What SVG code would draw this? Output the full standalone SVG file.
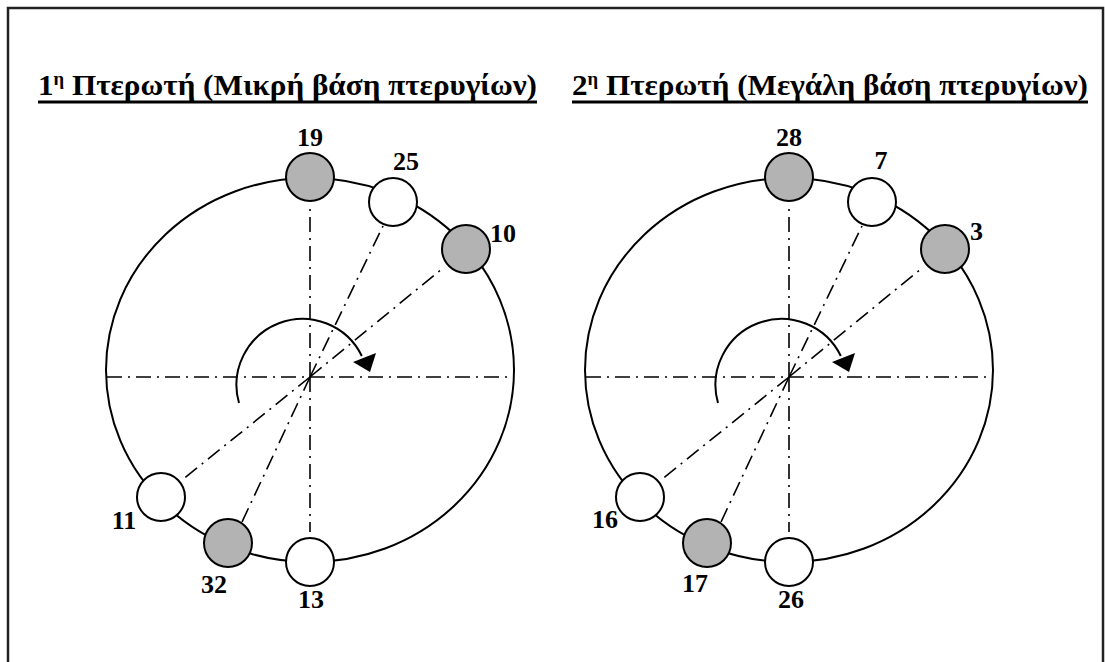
<svg xmlns="http://www.w3.org/2000/svg" width="1105" height="662" viewBox="0 0 1105 662">
<style>
.frame{fill:none;stroke:#222;stroke-width:2.5}
.title{font-family:'Liberation Serif','Times New Roman','DejaVu Serif',serif;font-weight:bold;font-size:30px;fill:#000}
.sup{font-size:18px}
.uline{stroke:#000;stroke-width:3}
.rim{fill:none;stroke:#000;stroke-width:2}
.axis{fill:none;stroke:#000;stroke-width:1.6;stroke-dasharray:15 6 2 6}
.rot{fill:none;stroke:#000;stroke-width:2}
.head{fill:#000}
.hole{stroke:#000;stroke-width:2}
.g{fill:#b3b3b3}
.w{fill:#fff}
.lbl{font-family:'Liberation Serif','Times New Roman','DejaVu Serif',serif;font-weight:bold;font-size:26px;fill:#000}
</style>
<rect class="frame" x="8" y="8" width="1095" height="720"/>

<g id="title-1">
<text class="title" font-family="Liberation Serif, serif" x="38" y="95" textLength="499" lengthAdjust="spacingAndGlyphs">1<tspan class="sup" dy="-10">η</tspan><tspan dy="10"> Πτερωτή (Μικρή βάση πτερυγίων)</tspan></text>
<line class="uline" x1="38" y1="102" x2="537" y2="102"/>
</g>
<g id="title-2">
<text class="title" font-family="Liberation Serif, serif" x="572" y="95" textLength="516" lengthAdjust="spacingAndGlyphs">2<tspan class="sup" dy="-10">η</tspan><tspan dy="10"> Πτερωτή (Μεγάλη βάση πτερυγίων)</tspan></text>
<line class="uline" x1="572" y1="102" x2="1088" y2="102"/>
</g>

<!-- Left impeller -->
<g id="rim-1"><ellipse class="rim" cx="310" cy="370" rx="204" ry="192"/></g>
<g id="connectors-1">
<line class="axis" x1="107" y1="377" x2="514" y2="377"/>
<line class="axis" x1="310" y1="377" x2="310" y2="205"/>
<line class="axis" x1="310" y1="377" x2="383" y2="226"/>
<line class="axis" x1="310" y1="377" x2="443" y2="268"/>
<line class="axis" x1="310" y1="377" x2="182" y2="480"/>
<line class="axis" x1="310" y1="377" x2="242" y2="522"/>
<line class="axis" x1="310" y1="377" x2="310" y2="532"/>
<path class="rot" d="M 239 403 A 66 66 0 0 1 361.8 356"/>
<polygon class="head" points="353,362 376,353 370,372"/>
</g>
<g id="hole-19"><circle class="hole g" cx="310" cy="177" r="24"/><text class="lbl" font-family="Liberation Serif, serif" x="310" y="146" text-anchor="middle">19</text></g>
<g id="hole-25"><circle class="hole w" cx="393" cy="202" r="24"/><text class="lbl" font-family="Liberation Serif, serif" x="406" y="170" text-anchor="middle">25</text></g>
<g id="hole-10"><circle class="hole g" cx="466" cy="249" r="24"/><text class="lbl" font-family="Liberation Serif, serif" x="490" y="242">10</text></g>
<g id="hole-11"><circle class="hole w" cx="161" cy="497" r="24"/><text class="lbl" font-family="Liberation Serif, serif" x="124" y="529" text-anchor="middle">11</text></g>
<g id="hole-32"><circle class="hole g" cx="228" cy="543" r="24"/><text class="lbl" font-family="Liberation Serif, serif" x="214" y="593" text-anchor="middle">32</text></g>
<g id="hole-13"><circle class="hole w" cx="310" cy="562" r="24"/><text class="lbl" font-family="Liberation Serif, serif" x="311" y="608" text-anchor="middle">13</text></g>

<!-- Right impeller -->
<g id="rim-2"><ellipse class="rim" cx="789" cy="370" rx="204" ry="192"/></g>
<g id="connectors-2">
<line class="axis" x1="586" y1="377" x2="993" y2="377"/>
<line class="axis" x1="789" y1="377" x2="789" y2="205"/>
<line class="axis" x1="789" y1="377" x2="862" y2="226"/>
<line class="axis" x1="789" y1="377" x2="922" y2="268"/>
<line class="axis" x1="789" y1="377" x2="661" y2="480"/>
<line class="axis" x1="789" y1="377" x2="721" y2="522"/>
<line class="axis" x1="789" y1="377" x2="789" y2="532"/>
<path class="rot" d="M 718 403 A 66 66 0 0 1 840.8 356"/>
<polygon class="head" points="832,362 855,353 849,372"/>
</g>
<g id="hole-28"><circle class="hole g" cx="789" cy="177" r="24"/><text class="lbl" font-family="Liberation Serif, serif" x="789" y="146" text-anchor="middle">28</text></g>
<g id="hole-7"><circle class="hole w" cx="872" cy="202" r="24"/><text class="lbl" font-family="Liberation Serif, serif" x="881" y="169" text-anchor="middle">7</text></g>
<g id="hole-3"><circle class="hole g" cx="945" cy="249" r="24"/><text class="lbl" font-family="Liberation Serif, serif" x="970" y="240">3</text></g>
<g id="hole-16"><circle class="hole w" cx="640" cy="497" r="24"/><text class="lbl" font-family="Liberation Serif, serif" x="605" y="528" text-anchor="middle">16</text></g>
<g id="hole-17"><circle class="hole g" cx="707" cy="543" r="24"/><text class="lbl" font-family="Liberation Serif, serif" x="695" y="592" text-anchor="middle">17</text></g>
<g id="hole-26"><circle class="hole w" cx="789" cy="562" r="24"/><text class="lbl" font-family="Liberation Serif, serif" x="791" y="608" text-anchor="middle">26</text></g>
</svg>
